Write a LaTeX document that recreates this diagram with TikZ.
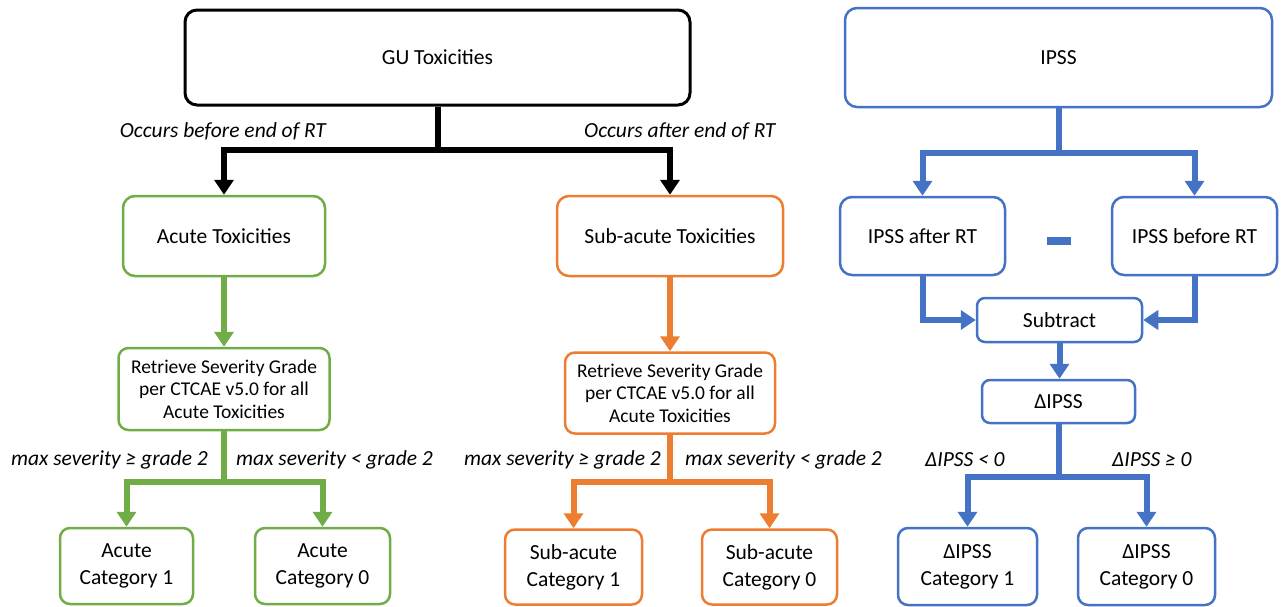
\documentclass[tikz,border=0pt]{standalone}
\usepackage{fontspec}
\setmainfont{Carlito}
\usetikzlibrary{arrows.meta}
\definecolor{cgreen}{HTML}{70AD47}
\definecolor{corange}{HTML}{ED7D31}
\definecolor{cblue}{HTML}{4472C4}
\tikzset{
  box/.style={draw, rounded corners=12pt, line width=2.5pt, align=center, inner sep=2pt,
    font=\fontsize{21.5}{27}\selectfont, fill=white},
  retr/.style={font=\fontsize{19.5}{22.5}\selectfont},
  conn/.style={line width=6pt, -{Triangle[width=19pt,length=15pt]}},
  line/.style={line width=6pt},
  lbl/.style={font=\fontsize{21.5}{25}\selectfont\itshape, inner sep=0pt}
}
\begin{document}
\begin{tikzpicture}[x=1pt,y=-1pt]
\useasboundingbox (0,0) rectangle (1283,606);
% ---------- GU branch
\node[box, line width=3pt, minimum width=505pt, minimum height=95pt] (gu) at (437.5,57.5) {GU Toxicities};
\node[box, draw=cgreen, minimum width=202pt, minimum height=80pt] (acute) at (224,236) {Acute Toxicities};
\node[box, draw=corange, minimum width=226pt, minimum height=80pt] (sub) at (670,236) {Sub-acute Toxicities};
\coordinate (j1) at (437.5,150);
\draw[line] (gu.south) -- (j1);
\draw[conn] (j1) -| (acute.north);
\draw[conn] (j1) -| (sub.north);
\node[lbl, anchor=east] (lb1) at (326,131) {Occurs before end of RT};
\node[lbl, anchor=west] (lb2) at (584,131) {Occurs after end of RT};
% ---------- green
\node[box, retr, draw=cgreen, rounded corners=10pt, minimum width=211pt, minimum height=82pt] (gret) at (224,389)
  {Retrieve Severity Grade\\per CTCAE v5.0 for all\\Acute Toxicities};
\draw[conn, cgreen] (acute.south) -- (gret.north);
\node[box, draw=cgreen, rounded corners=10pt, minimum width=133pt, minimum height=76pt] (g1) at (126.5,566) {Acute\\Category 1};
\node[box, draw=cgreen, rounded corners=10pt, minimum width=135pt, minimum height=76pt] (g0) at (322.5,566) {Acute\\Category 0};
\coordinate (j2) at (224,482);
\draw[line, cgreen] (gret.south) -- (j2);
\draw[conn, cgreen] (j2) -| (g1.north);
\draw[conn, cgreen] (j2) -| (g0.north);
\node[lbl, anchor=east] (lg1) at (208,460) {max severity ≥ grade 2};
\node[lbl, anchor=west] (lg0) at (236,460) {max severity < grade 2};
% ---------- orange
\node[box, retr, draw=corange, rounded corners=10pt, minimum width=210pt, minimum height=81pt] (oret) at (670,393)
  {Retrieve Severity Grade\\per CTCAE v5.0 for all\\Acute Toxicities};
\draw[conn, corange] (sub.south) -- (oret.north);
\node[box, draw=corange, rounded corners=10pt, minimum width=137pt, minimum height=75pt] (o1) at (573.5,567) {Sub-acute\\Category 1};
\node[box, draw=corange, rounded corners=10pt, minimum width=135pt, minimum height=75pt] (o0) at (769.5,567) {Sub-acute\\Category 0};
\coordinate (j3) at (670,482);
\draw[line, corange] (oret.south) -- (j3);
\draw[conn, corange] (j3) -| (o1.north);
\draw[conn, corange] (j3) -| (o0.north);
\node[lbl, anchor=east] (lo1) at (661,460) {max severity ≥ grade 2};
\node[lbl, anchor=west] (lo0) at (685,460) {max severity < grade 2};
% ---------- blue
\node[box, draw=cblue, minimum width=427pt, minimum height=99pt] (ipss) at (1058.5,57.5) {IPSS};
\node[box, draw=cblue, minimum width=165pt, minimum height=78pt] (after) at (922.5,236) {IPSS after RT};
\node[box, draw=cblue, minimum width=165pt, minimum height=78pt] (before) at (1194.5,236) {IPSS before RT};
\node[fill=cblue, minimum width=24pt, minimum height=8pt, inner sep=0pt] (minus) at (1059,241) {};
\coordinate (j4) at (1058.5,153);
\draw[line, cblue] (ipss.south) -- (j4);
\draw[conn, cblue] (j4) -| (after.north);
\draw[conn, cblue] (j4) -| (before.north);
\node[box, draw=cblue, rounded corners=8pt, minimum width=165pt, minimum height=44pt] (subtr) at (1059.5,320) {Subtract};
\draw[conn, cblue] (after.south) |- (subtr.west);
\draw[conn, cblue] (before.south) |- (subtr.east);
\node[box, draw=cblue, rounded corners=8pt, minimum width=153pt, minimum height=43pt] (dipss) at (1058.5,401.5) {ΔIPSS};
\draw[conn, cblue] (subtr.south) -- (subtr.south |- dipss.north);
\node[box, draw=cblue, rounded corners=10pt, minimum width=139pt, minimum height=77pt] (b1) at (967.5,566.5) {ΔIPSS\\Category 1};
\node[box, draw=cblue, rounded corners=10pt, minimum width=137pt, minimum height=77pt] (b0) at (1146.5,566.5) {ΔIPSS\\Category 0};
\coordinate (j5) at (1058.5,477);
\draw[line, cblue] (dipss.south) -- (j5);
\draw[conn, cblue] (j5) -| (b1.north);
\draw[conn, cblue] (j5) -| (b0.north);
\node[lbl, anchor=west] (lb1b) at (925,460) {ΔIPSS < 0};
\node[lbl, anchor=west] (lb0b) at (1112,460) {ΔIPSS ≥ 0};
\end{tikzpicture}
\end{document}
